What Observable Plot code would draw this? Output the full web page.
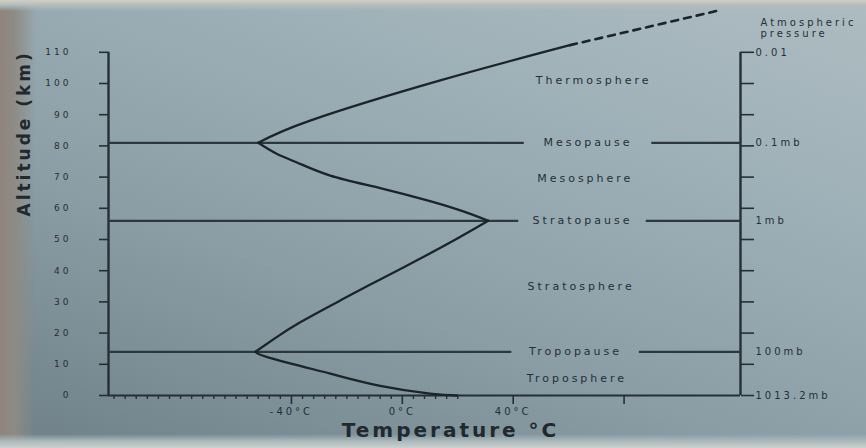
<!DOCTYPE html>
<html>
<head>
<meta charset="utf-8">
<script src="https://cdn.jsdelivr.net/npm/d3@7"></script>
<script src="https://cdn.jsdelivr.net/npm/@observablehq/plot@0.6"></script>
<style>
  html, body { margin: 0; padding: 0; }
  body {
    width: 866px; height: 448px; overflow: hidden;
    background:
      linear-gradient(to bottom, #d2cfc3 0px, #b2bcbd 5px, rgba(160,176,182,0) 11px),
      linear-gradient(to top, #cdd1cd 0px, #aab8bb 7px, rgba(160,176,182,0) 14px),
      linear-gradient(to right, #8e857b 0px, #8d8b86 14px, rgba(140,155,160,0) 36px),
      linear-gradient(200deg, #adbcc1 0%, #9eb0b7 30%, #8b9ea6 62%, #6e7f87 100%);
  }
  #chart svg text { letter-spacing: 3px; }
  #chart svg g[aria-label="axis-title"] text { letter-spacing: 0.5px; }
</style>
</head>
<body>
<div id="chart"></div>
<script>
// ---- data ----
const altitudeTicks = [0, 10, 20, 30, 40, 50, 60, 70, 80, 90, 100, 110];
const temperatureTicks = [-40, 0, 40, 80];
const temperatureTickLabels = ["-40°C", "0°C", "40°C", ""];

const layerNames = ["Troposphere", "Stratosphere", "Mesosphere", "Thermosphere"];
const layerLabelAlt = [5.3, 35, 69.5, 101];
const layerLabelTemp = [63, 64.5, 66, 69];

const boundaryNames = ["Tropopause", "Stratopause", "Mesopause"];
const boundaryAlt = [14, 56, 81];
const boundaryLabelTemp = [62.5, 65, 67];

const pressureLabels = ["1013.2mb", "100mb", "1mb", "0.1mb", "0.01"];
const pressureAlt = [0, 14, 56, 81, 110];

// temperature profile (°C, km), grouped by layer
const profileTemp  = [19.8, 10, -8, -26, -47.5, -53,
                      -53, -46, -37, -22.3, -8, 6.5, 20, 31,
                      31, 22, 10, -8, -26, -38, -45, -52,
                      -52, -33, 13.7, 60.5];
const profileAlt   = [0, 0.6, 3.1, 7, 12, 14,
                      14, 18.3, 23.4, 30.5, 37.2, 43.9, 50.4, 56,
                      56, 59, 62.3, 66.5, 70.5, 74.7, 77.3, 81,
                      81, 88.2, 101, 112.3];
const profileLayer = ["Troposphere", "Troposphere", "Troposphere", "Troposphere", "Troposphere", "Troposphere",
                      "Stratosphere", "Stratosphere", "Stratosphere", "Stratosphere", "Stratosphere", "Stratosphere", "Stratosphere", "Stratosphere",
                      "Mesosphere", "Mesosphere", "Mesosphere", "Mesosphere", "Mesosphere", "Mesosphere", "Mesosphere", "Mesosphere",
                      "Thermosphere", "Thermosphere", "Thermosphere", "Thermosphere"];
const extrapTemp = [60.5, 114.6];
const extrapAlt  = [112.3, 123.5];

// ---- layout ----
const xMin = -106, xMax = 122;
const gapHalf = 23;
const ink = "#253036";

const profile = profileTemp.map((t, i) => ({temp: t, alt: profileAlt[i], layer: profileLayer[i]}));
const extrap = extrapTemp.map((t, i) => ({temp: t, alt: extrapAlt[i]}));
const layers = layerNames.map((n, i) => ({name: n, alt: layerLabelAlt[i], temp: layerLabelTemp[i]}));
const bounds = boundaryNames.map((n, i) => ({name: n, alt: boundaryAlt[i], temp: boundaryLabelTemp[i]}));
const pressures = pressureLabels.map((n, i) => ({name: n, alt: pressureAlt[i]}));
const minorTicks = d3.range(-104, 21, 4).filter((t) => !temperatureTicks.includes(t));

const chart = Plot.plot({
  width: 866,
  height: 448,
  marginLeft: 108,
  marginRight: 126,
  marginTop: 5,
  marginBottom: 53,
  x: {domain: [xMin, xMax], axis: null},
  y: {domain: [0, 125], axis: null},
  style: {background: "transparent", color: ink, fontFamily: "DejaVu Sans"},
  marks: [
    // axis lines
    Plot.ruleX([xMin], {y1: 0, y2: 110, stroke: ink, strokeWidth: 2.4}),
    Plot.ruleX([xMax], {y1: 0, y2: 110, stroke: ink, strokeWidth: 2.4}),
    Plot.ruleY([0], {x1: xMin, x2: xMax, stroke: ink, strokeWidth: 2}),
    // left altitude axis
    Plot.axisY({ticks: altitudeTicks, anchor: "left", tickSize: 9, tickPadding: 28,
                fontSize: 9, label: null, stroke: ink, strokeWidth: 1.6}),
    // right pressure axis ticks
    Plot.axisY({ticks: altitudeTicks, anchor: "right", tickSize: 13, tickFormat: () => "",
                label: null, stroke: ink, strokeWidth: 1.6}),
    // bottom temperature axis
    Plot.axisX({ticks: minorTicks, tickSize: 4, tickFormat: () => "", label: null,
                stroke: ink, strokeWidth: 1.4}),
    Plot.axisX({ticks: temperatureTicks, tickSize: 9, tickPadding: 3, fontSize: 10,
                tickFormat: (d) => temperatureTickLabels[temperatureTicks.indexOf(d)],
                label: null, stroke: ink, strokeWidth: 1.6}),
    // boundary lines, broken around their names
    Plot.ruleY(bounds, {y: "alt", x1: xMin, x2: (d) => d.temp - gapHalf, stroke: "#2c383e", strokeWidth: 2.2}),
    Plot.ruleY(bounds, {y: "alt", x1: (d) => d.temp + gapHalf, x2: xMax, stroke: "#2c383e", strokeWidth: 2.2}),
    Plot.text(bounds, {x: "temp", y: "alt", text: "name", fontSize: 11, fill: ink}),
    Plot.text(layers, {x: "temp", y: "alt", text: "name", fontSize: 11, fill: ink}),
    // pressure labels
    Plot.text(pressures, {x: xMax, y: "alt", text: "name", dx: 15, textAnchor: "start", fontSize: 10, fill: ink}),
    Plot.text(["Atmospheric\npressure"], {frameAnchor: "top-right", dx: 20, dy: 13, textAnchor: "start",
                lineAnchor: "top", lineHeight: 1.1, fontSize: 10, fill: ink}),
    // temperature profile
    Plot.line(profile, {x: "temp", y: "alt", z: "layer", curve: "natural", stroke: "#1b2429", strokeWidth: 2.3}),
    Plot.line(extrap, {x: "temp", y: "alt", stroke: "#1b2429", strokeWidth: 2.6, strokeDasharray: "7,6"}),
    // axis titles
    Plot.text(["Altitude (km)"], {frameAnchor: "left", dx: -84, dy: 16, rotate: -90, fontSize: 17,
                fontWeight: "bold", fill: "#1f292e", ariaLabel: "axis-title"}),
    Plot.text(["Temperature °C"], {frameAnchor: "bottom", dx: 26, dy: 41, fontSize: 20,
                fontWeight: "bold", fill: "#1f292e", ariaLabel: "axis-title"})
  ]
});
document.getElementById("chart").appendChild(chart);
</script>
</body>
</html>
